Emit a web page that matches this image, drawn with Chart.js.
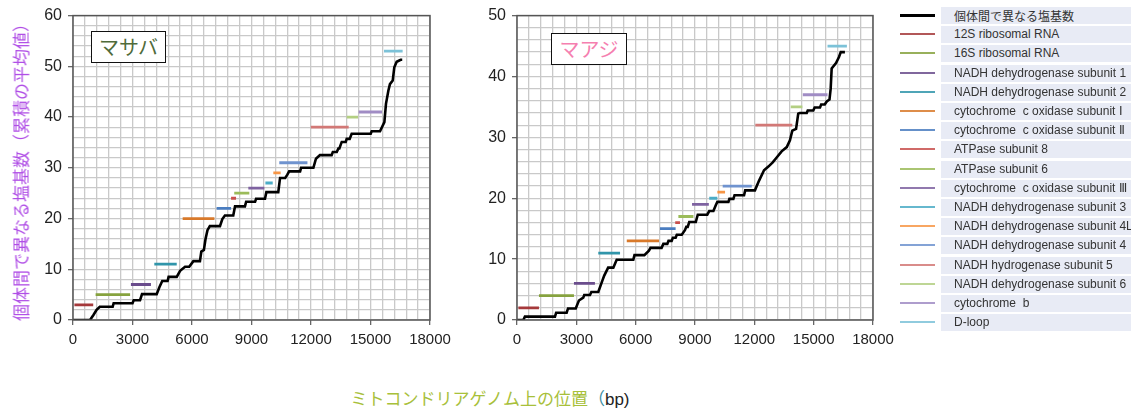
<!DOCTYPE html>
<html><head><meta charset="utf-8">
<script src="https://cdn.jsdelivr.net/npm/chart.js@4.4.1/dist/chart.umd.min.js"></script>
<style>
body{margin:0;width:1131px;height:408px;background:#fff;position:relative;overflow:hidden;font-family:"Liberation Sans",Arial,sans-serif;}
.abs{position:absolute;}
.lgtext{position:absolute;left:941px;width:190px;height:17px;line-height:17px;background:#e8ebf5;font-size:12px;color:#333;padding-left:13px;box-sizing:border-box;white-space:pre;overflow:hidden;}
.lgline{position:absolute;left:900px;width:35px;}
.tbox{position:absolute;border:1.5px solid #111;background:#fff;font-family:"Noto Sans CJK JP",sans-serif;font-size:20px;text-align:center;box-sizing:border-box;}
</style></head><body>
<div class="abs" style="left:0;top:0"><canvas id="ca" width="470" height="360"></canvas></div>
<div class="abs" style="left:470px;top:0"><canvas id="cb" width="430" height="360"></canvas></div>
<div class="tbox" style="left:91px;top:31px;width:75px;height:32px;line-height:29px;color:#4f6b3a">マサバ</div>
<div class="tbox" style="left:551px;top:33px;width:76px;height:32px;line-height:29px;color:#f57fb0">マアジ</div>
<div class="abs" id="ytitle" style="left:20px;top:168px;transform:translate(-50%,-50%) rotate(-90deg);white-space:nowrap;font-family:'Noto Sans CJK JP',sans-serif;font-size:17px;color:#b04ee6">個体間で異なる塩基数（累積の平均値）</div>
<div class="abs" style="left:490px;top:397px;transform:translate(-50%,-50%);white-space:nowrap;font-family:'Noto Sans CJK JP',sans-serif;font-size:17px"><span style="color:#a8c03a">ミトコンドリアゲノム上の位置</span><span style="color:#3a8ca0">（</span><span style="color:#222;font-family:'Liberation Sans',Arial,sans-serif">bp)</span></div>
<div id="legend"></div>
<script>
// ---- categories ----
const seriesName = "個体間で異なる塩基数";
const geneNames = ["12S ribosomal RNA","16S ribosomal RNA","NADH dehydrogenase subunit 1","NADH dehydrogenase subunit 2","cytochrome  c oxidase subunit Ⅰ","cytochrome  c oxidase subunit Ⅱ","ATPase subunit 8","ATPase subunit 6","cytochrome  c oxidase subunit Ⅲ","NADH dehydrogenase subunit 3","NADH dehydrogenase subunit 4L","NADH dehydrogenase subunit 4","NADH hydrogenase subunit 5","NADH dehydrogenase subunit 6","cytochrome  b","D-loop"];
const geneColors = ["#a5393b","#86a23e","#6a4c8c","#3095aa","#d8792a","#4a7dc0","#c8504d","#9bbb59","#7e62a0","#4bacc6","#f79646","#6f93cf","#d27876","#b3cf82","#a08cc4","#7cc2d8"];

// ---- マサバ (chub mackerel) ----
const masabaGeneStart = [70,1140,2920,4100,5530,7240,7970,8130,8840,9700,10100,10400,11990,13800,14400,15680];
const masabaGeneEnd   = [1020,2880,3930,5230,7130,7970,8220,8890,9650,10070,10470,11820,13900,14370,15580,16620];
const masabaGeneLevel = [3,5,7,11,20,22,24,25,26,27,29,31,38,40,41,53];
const masabaPos  = [0,860,1030,1190,1350,2000,2050,3000,3060,3380,3480,4220,4350,4500,4770,4820,5230,5400,5650,5860,6070,6400,6470,6600,6680,6780,6900,7410,7530,7660,8080,8170,8670,8730,9180,9230,9680,9750,10350,10440,10700,10800,10900,11450,11500,12120,12250,12450,13040,13100,13300,13380,13430,13550,13750,13800,13950,14050,15010,15060,15480,15700,15780,15900,15980,16120,16200,16320,16520,16600];
const masabaDiff = [0,0,1,2,2.6,2.6,3.3,3.3,3.9,3.9,5.1,5.1,6.4,7.7,7.7,8.5,8.5,9.7,10.5,10.5,11.6,11.6,13.5,13.8,15.9,17.7,18.5,18.5,19.9,20.6,20.6,22.4,22.4,23.3,23.3,23.9,23.9,25.2,25.2,28.0,28.0,28.6,29.3,29.3,30.0,30.0,31.8,32.5,32.5,33.1,33.1,33.8,33.8,35.1,35.1,35.7,35.7,36.7,36.7,37.2,37.2,39.0,42.6,45.2,46.5,47.2,49.8,50.9,51.3,51.3];

// ---- マアジ (Japanese jack mackerel) ----
const maajiGeneStart = [70,1110,2880,4110,5550,7230,8000,8160,8850,9720,10130,10400,12050,13840,14450,15700];
const maajiGeneEnd   = [1110,2880,3940,5210,7180,8020,8240,8920,9700,10130,10520,11870,13920,14430,15700,16680];
const maajiGeneLevel = [2,4,6,11,13,15,16,17,19,20,21,22,32,35,37,45];
const maajiPos  = [0,320,400,1920,1980,2510,2580,2970,3130,3350,3400,3690,3760,4110,4330,4410,4610,4870,5040,5880,5940,6440,6670,6750,7310,7400,7600,7660,7820,7880,8020,8080,8330,8490,8560,8630,8710,9040,9140,9620,9720,9930,10050,10130,10690,10740,10940,11000,11480,11540,12030,12240,12490,12710,12930,13130,13380,13640,13800,13920,14110,14220,14300,14650,14700,14980,15050,15320,15380,15560,15660,15800,15860,15910,16130,16280,16370,16580];
const maajiDiff = [0,0,0.55,0.55,1.2,1.2,1.9,1.9,3.2,3.66,4.1,4.1,4.6,4.6,6.6,7.3,8.6,8.6,9.9,9.9,10.65,10.65,11.4,11.85,11.85,12.5,12.5,13.0,13.0,13.5,13.5,14.0,14.0,14.75,15.3,15.3,16.1,16.1,17.3,17.3,17.9,17.9,18.85,19.4,19.4,19.9,19.9,20.5,20.5,21.3,21.3,22.9,24.6,25.2,25.9,26.7,27.7,28.4,29.5,31.1,31.4,33.9,34.0,34.0,34.4,34.4,34.9,34.9,35.4,35.4,35.9,36.2,38.0,41.3,42.2,43.2,44.0,44.0];

// ---- tick labels ----
const xTickLabels = [0,3000,6000,9000,12000,15000,18000];
const yTickLabelsA = [0,10,20,30,40,50,60];
const yTickLabelsB = [0,10,20,30,40,50];

function buildDatasets(pos, diff, gs, ge, gl){
  const ds = [{label:seriesName, data:pos.map((x,i)=>({x:x,y:diff[i]})), borderColor:'#000', borderWidth:2.6, pointRadius:0, tension:0, order:0}];
  geneNames.forEach((n,i)=>{
    ds.push({label:n, data:[{x:gs[i],y:gl[i]},{x:ge[i],y:gl[i]}], borderColor:geneColors[i], borderWidth:2.8, pointRadius:0, order:1, borderCapStyle:'butt'});
  });
  return ds;
}
const borderPlugin = {id:'frame', afterDraw(c){const a=c.chartArea,ctx=c.ctx;ctx.save();ctx.strokeStyle='#555';ctx.lineWidth=1.5;ctx.strokeRect(a.left,a.top,a.right-a.left,a.bottom-a.top);ctx.restore();}};

function makeChart(id, pos, diff, gs, ge, gl, ymax, yLabels, yWidth, padRight){
  new Chart(document.getElementById(id), {
    type:'line',
    data:{datasets:buildDatasets(pos,diff,gs,ge,gl)},
    options:{
      responsive:false, animation:false,
      layout:{padding:{left:0,top:15,right:padRight,bottom:0}},
      plugins:{legend:{display:false},tooltip:{enabled:false}},
      scales:{
        x:{type:'linear',min:0,max:18000,
          ticks:{stepSize:600,autoSkip:false,maxRotation:0,padding:6,color:'#222',font:{size:15,family:'"Liberation Sans",Arial'},callback:v=>xTickLabels.includes(v)?String(v):''},
          grid:{color:'#c9c9c9',lineWidth:1.3,tickLength:5,tickColor:c=>xTickLabels.includes(c.tick&&c.tick.value)?'#666':'rgba(0,0,0,0)'},
          border:{display:false},
          afterFit:s=>{s.height=40;}},
        y:{type:'linear',min:0,max:ymax,
          ticks:{stepSize:2,autoSkip:false,padding:6,color:'#222',font:{size:16,family:'"Liberation Sans",Arial'},callback:v=>yLabels.includes(v)?String(v):''},
          grid:{color:'#c9c9c9',lineWidth:1.3,tickLength:5,tickColor:c=>yLabels.includes(c.tick&&c.tick.value)?'#666':'rgba(0,0,0,0)'},
          border:{display:false},
          afterFit:s=>{s.width=yWidth;}}
      }
    },
    plugins:[borderPlugin]
  });
}
makeChart('ca', masabaPos, masabaDiff, masabaGeneStart, masabaGeneEnd, masabaGeneLevel, 60, yTickLabelsA, 73, 40);
makeChart('cb', maajiPos, maajiDiff, maajiGeneStart, maajiGeneEnd, maajiGeneLevel, 50, yTickLabelsB, 47, 27);

// ---- legend ----
const lg = document.getElementById('legend');
const names = [seriesName].concat(geneNames);
const cols = ['#000'].concat(geneColors);
names.forEach((n,i)=>{
  const cy = Math.round(15 + 19.2*i);
  const t = document.createElement('div'); t.className='lgtext'; t.style.top=(cy-8)+'px'; t.textContent=n;
  if(i===0) t.style.fontFamily='"Noto Sans CJK JP",sans-serif';
  lg.appendChild(t);
  const l = document.createElement('div'); l.className='lgline'; const h=i===0?3:2;
  l.style.top=(cy-1)+'px'; l.style.height=h+'px'; l.style.background=cols[i]; if(i>0) l.style.opacity='0.85';
  lg.appendChild(l);
});
</script>
</body></html>
